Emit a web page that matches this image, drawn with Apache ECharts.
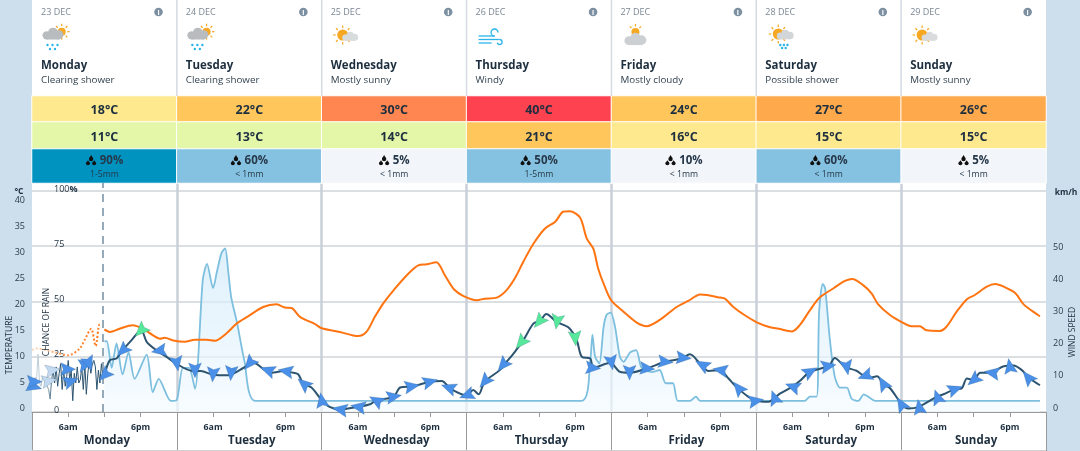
<!DOCTYPE html>
<html><head><meta charset="utf-8">
<style>html,body{margin:0;padding:0;width:1080px;height:451px;overflow:hidden;background:#cddfec}
#bg{position:absolute;left:32px;top:0;width:1014px;height:451px;background:#fff}
#c{position:absolute;left:0;top:0;width:1080px;height:451px}</style>
<script src="https://cdn.jsdelivr.net/npm/echarts@6/dist/echarts.min.js"></script>
</head><body><div id="bg"></div><div id="c"></div>
<script>
const days=['Monday','Tuesday','Wednesday','Thursday','Friday','Saturday','Sunday'];
const dates=['23 DEC','24 DEC','25 DEC','26 DEC','27 DEC','28 DEC','29 DEC'];
const descs=['Clearing shower','Clearing shower','Mostly sunny','Windy','Mostly cloudy','Possible shower','Mostly sunny'];
const icons=['shower','shower','sunny','wind','cloudy','possible','sunny'];
const maxT=[18,22,30,40,24,27,26];
const minT=[11,13,14,21,16,15,15];
const rainPct=[90,60,5,50,10,60,5];
const rainAmt=['1-5mm','< 1mm','< 1mm','1-5mm','< 1mm','< 1mm','< 1mm'];
const maxColors=['#ffe98f','#ffc65c','#ff8650','#ff4250','#ffc65c','#ffa94d','#ffa94d'];
const minColors=['#e4f7a8','#e4f7a8','#e4f7a8','#ffc65c','#ffe98f','#ffe98f','#ffe98f'];
const rainColors=['#0093c0','#85c1e0','#f2f5f9','#85c1e0','#f2f5f9','#85c1e0','#f2f5f9'];

const rainSeries=[[12,32],[12.4,32],[13.2,20],[14,31],[15,17],[16,27],[17,15],[19,26],[20,9],[21,15],[23,5],[24,5.5],[25,20],[26,20],[27,10.5],[28.3,60],[29,67],[30,56],[30.6,63],[31.4,72],[32,74],[32.5,64],[33,52],[34,40],[35.2,23],[37,5],[60,5],[91,5],[92.5,23.5],[92.85,35],[93.3,25],[94,22],[94.7,38.5],[95.2,44],[95.9,45],[96.6,38.5],[97.4,25],[98,22.7],[99.1,27],[100.1,28],[101,20],[102.7,18],[104,19],[105,13],[106.2,13],[107,5],[109,5],[110,7],[110.7,5],[128,5],[128.9,7],[130,7],[130.4,45],[131,58],[131.4,56],[132.2,32.5],[133,16],[133.9,11],[135,11],[135.8,6],[136.9,5],[137.8,8],[138.5,7],[139.7,5],[167,5]];
const tempObserved=[[0,11.9],[0.7,12.2],[2.4,11.9],[4,11.4],[6,10.9],[7.9,12.2],[8.7,13.8],[9.8,16],[10.55,12.7],[11.2,16.9],[11.5,16.8]];
const tempForecast=[[12,15.9],[12.9,15.4],[14.5,16],[16.7,16.7],[18.4,16],[20,14.8],[21.2,14.1],[22,14.3],[23.4,13.75],[25.3,13.5],[27,13.9],[28.9,13.9],[30.3,13.7],[32.2,15.1],[33.9,17],[35.8,18.4],[38.3,20.2],[40.5,20.7],[41.9,20.1],[43,20],[44.4,18.3],[46.9,16.9],[48,16.1],[51,15.4],[54,14.6],[55.4,15.4],[56.8,18.3],[58.2,20.9],[59.9,23.4],[62.1,26.3],[64,28.2],[65.4,28.4],[67,28.8],[68.4,26.3],[69.9,23.6],[71.5,22.3],[73.7,21.5],[75,21.8],[77,22],[78.6,23.4],[80,25.7],[81.4,28.9],[83.1,32.4],[85,35.3],[86.7,36.6],[88,38.5],[89.1,38.6],[90.8,37.4],[91.9,33.4],[93,31.4],[93.8,27.6],[94.9,24.1],[96,21.4],[98,19.3],[100.2,17.2],[101.85,16.5],[104,17.7],[106.8,20.2],[108.8,21.4],[110.7,22.6],[111.8,22.5],[114,22],[114.8,21.8],[116.2,20.2],[118.1,18.6],[120,17.3],[122,16.4],[123.7,16],[125.9,15.5],[127.2,16.7],[128.9,19.6],[130.5,22],[132.8,23.8],[134.7,25.2],[135.9,25.6],[137.7,24.4],[139.1,22.8],[140.2,20.7],[142.2,18.6],[144.1,17.3],[145.75,16.5],[147.1,16.5],[148.2,15.7],[150.4,15.6],[151.5,16.4],[153.2,19.3],[154.9,21.7],[156.2,22.5],[158.2,24.1],[159.6,24.6],[161,24.1],[162.9,22.9],[164.3,20.7],[167,18.4]];
const windObserved=[[0,8],[0.25,9],[0.5,7],[0.75,10],[1,18],[1.25,9],[1.5,8],[1.75,11],[2,10],[2.25,9],[2.5,9],[2.75,7],[3,4],[3.25,10],[3.5,13],[3.75,9],[4,14],[4.25,8],[4.5,12],[4.75,15],[5,7],[5.25,13],[5.5,8],[5.75,11],[6,16],[6.25,10],[6.5,13],[6.75,3.5],[7,12],[7.25,9],[7.5,14],[7.75,9],[8,10],[8.25,14],[8.5,7],[8.75,15],[9,5.5],[9.25,12],[9.5,16],[9.75,12],[10,15],[10.25,16],[10.5,14],[10.75,7],[11,13],[11.25,9],[11.5,15],[11.75,11]];
const windForecast=[[12,11.4],[12.9,16.1],[14,16.6],[14.8,18.7],[16.5,22.3],[18.1,25.4],[19,21.8],[20.6,19.2],[22.3,17.1],[23.9,15],[26.4,12.8],[28,12.7],[30,11.6],[32.5,11.4],[34.4,13],[35.8,14.5],[36.7,15.3],[38.6,13],[39.7,12.2],[41.6,12.7],[43,12.3],[44.1,11.75],[44.9,8.9],[46.3,7.6],[48,3.7],[49.3,1.6],[51,0.8],[54,1.6],[56,2.4],[57.1,3.7],[59.9,4.7],[61,7.6],[63.2,8],[65.9,9.4],[67.9,9.6],[69.3,7.3],[72,5.2],[73.1,6.8],[74,5.5],[75,9.4],[77.5,13],[78.65,15.6],[80,18.7],[81.4,22.3],[83.1,27.5],[84.2,28.3],[85.2,30.4],[86.9,28],[88.9,26.2],[90.25,22.3],[91.1,17.1],[92.5,16.6],[93,13.7],[95.8,15.3],[97.4,12.5],[99.1,12.2],[101.85,13.5],[104.9,15.6],[107.65,16.6],[109,17.9],[110.7,15],[112.1,12.7],[114,13],[115.4,10.4],[116.7,7.8],[118.7,4.7],[120,3.5],[122,3.2],[123.9,5.7],[125.9,7.8],[127.2,9.6],[128.9,12.5],[132,14.3],[133,16.8],[134.7,14],[136.6,12.8],[137.7,11.4],[138.8,10.6],[140,11.1],[141,8.9],[142.2,7.3],[144.1,2.4],[145.2,1.1],[146.9,1.6],[149.9,4.7],[151,5.5],[152.9,7.1],[154,7.3],[154.9,10.4],[156,9.9],[157.1,12.2],[158.7,12.2],[161,14.2],[162.6,14.4],[164,13],[165.1,10.7],[167,8.3]];
const arrowHours=[0,0.45,2.9,3.5,6,6.5,9,9.45,12,15,18,21,24,27,30,33,36,39,42,45,48,51,54,57,60,63,66,69,72,75,78,81,84,87,90,93,96,99,102,105,108,111,114,117,120,123,126,129,132,135,138,141,144,147,150,153,156,159,162,165];
const arrowSpeed=[7.8,9.4,9.7,13,13.3,9.6,14.7,15,11.4,19,25.2,19,15,12.9,11.6,12,15,13,12.7,8.8,3.7,0.8,1.6,3.6,4.8,8,9.4,7.6,5.2,9.4,14.5,21.5,28,28,22.8,13.7,15.3,12.2,13.5,15.6,16.8,14.7,13,7.5,3.5,4.5,7.9,12.6,14.3,13.8,11.2,8.9,2.5,1.6,4.7,7.1,9.9,12.2,14.3,10.8];
const arrowDir=[120,270,280,280,270,290,280,200,135,135,135,100,190,180,175,175,140,70,80,50,10,80,80,60,280,280,285,70,110,140,140,140,140,170,185,265,190,180,265,265,265,60,80,40,280,20,70,300,280,190,110,30,30,10,20,290,130,80,10,40];
const arrowFaded=[2,3];

const FONT='"Open Sans"';
const INK='#1d2f3f';
const L=32,W=1014,DW=W/7;
const ARROW='path://M0,-10 L8,8 L0,5 L-8,8 Z';

function rainIcon(fill){
  const svg='<svg xmlns="http://www.w3.org/2000/svg" width="12" height="12" viewBox="0 0 12 12"><g fill="'+fill+'"><path d="M6,0 C7,2 8.4,3 8.4,4.3 A2.4,2.4 0 0 1 3.6,4.3 C3.6,3 5,2 6,0Z"/><path d="M2.6,5.6 C3.4,7 4.9,8 4.9,9.4 A2.4,2.4 0 0 1 0.2,9.4 C0.2,8 1.8,7 2.6,5.6Z"/><path d="M9.4,5.6 C10.2,7 11.7,8 11.7,9.4 A2.4,2.4 0 0 1 7,9.4 C7,8 8.6,7 9.4,5.6Z"/></g></svg>';
  return 'data:image/svg+xml;charset=utf-8,'+encodeURIComponent(svg);
}
function circle(cx,cy,r,fill,z){return {type:'circle',shape:{cx,cy,r},style:{fill},z:z||10,silent:true};}
function sun(cx,cy,r,skip){
  const out=[];
  for(let a=0;a<8;a++){
    if(skip&&skip.includes(a))continue;
    const t=a*Math.PI/4;
    out.push({type:'line',shape:{x1:cx+Math.cos(t)*(r+1.6),y1:cy+Math.sin(t)*(r+1.6),x2:cx+Math.cos(t)*(r+4),y2:cy+Math.sin(t)*(r+4)},style:{stroke:'#f7a823',lineWidth:1.2},z:10,silent:true});
  }
  out.push(circle(cx,cy,r,'#f7a823',10));
  return out;
}
function cloud(x,y,w,fill){
  const s=w/20;
  return [
    circle(x+4*s,y+7*s,4*s,fill,11),circle(x+10*s,y+4.5*s,4.8*s,fill,11),circle(x+15.5*s,y+6.5*s,4.4*s,fill,11),
    {type:'rect',shape:{x:x+4*s,y:y+6*s,width:12*s,height:5*s},style:{fill},z:11,silent:true}
  ];
}
function drops(x,y,n){
  const out=[];
  const pts=n===5?[[0,0],[5,0],[10,0],[2.5,4],[7.5,4]]:[[0,0],[3.6,0],[7.2,0],[1.8,3],[5.4,3]];
  pts.forEach(p=>out.push(circle(x+p[0],y+p[1],1.2,'#2ab4ea',12)));
  return out;
}
function windGlyph(x,y){
  const st={fill:'none',stroke:'#2cb3ea',lineWidth:1.3};
  const ln=(x1,y1,x2,y2)=>({type:'line',shape:{x1:x+x1,y1:y+y1,x2:x+x2,y2:y+y2},style:st,z:10,silent:true});
  const arc=(cx,cy,r,a,b)=>({type:'arc',shape:{cx:x+cx,cy:y+cy,r,startAngle:a,endAngle:b,clockwise:true},style:st,z:10,silent:true});
  return [ln(0,6,16,6),arc(16,2.5,3.5,Math.PI*0.5,Math.PI*2),
          ln(0,9.5,21,9.5),arc(21,12,2.5,-Math.PI*0.5,Math.PI*0.9),ln(0,13,13,13)];
}
function iconFor(kind,x){
  if(kind==='shower') return [...sun(x+29.7,31.7,4),...cloud(x+10.5,28,21,'#b9bcbf'),...drops(x+15.5,45,5)];
  if(kind==='sunny') return [...sun(x+21,35,5.5),...cloud(x+20.5,32,16,'#d9dcdd')];
  if(kind==='wind') return windGlyph(x+12,30);
  if(kind==='cloudy') return [...sun(x+24,32,4,[0,1,2,3,4]),...cloud(x+13,33,22,'#cdd0d2')];
  return [...sun(x+22,34,5.5),...cloud(x+20.5,30,17,'#d3d6d8'),...drops(x+24,45,3)];
}
const graphics=[];
days.forEach((d,i)=>{
  const x=L+DW*i;
  if(i>0) graphics.push({type:'rect',shape:{x:x-0.75,y:0,width:1.5,height:96},style:{fill:'#d5dbe3'},z:5,silent:true});
  graphics.push({type:'text',style:{text:dates[i],x:x+9,y:12.5,fill:'#7b8794',font:'9px '+FONT,verticalAlign:'middle'},z:10,silent:true});
  graphics.push({type:'text',style:{text:d,x:x+9,y:65.5,fill:INK,font:'bold 11.5px '+FONT,verticalAlign:'middle'},z:10,silent:true});
  graphics.push({type:'text',style:{text:descs[i],x:x+9,y:80,fill:'#33424f',font:'9.8px '+FONT,verticalAlign:'middle'},z:10,silent:true});
  graphics.push(circle(x+126.5,12,4.3,'#7d90a2',10));
  graphics.push({type:'text',style:{text:'i',x:x+126.5,y:12.5,fill:'#fff',font:'bold 7px '+FONT,align:'center',verticalAlign:'middle'},z:11,silent:true});
  graphics.push(...iconFor(icons[i],x));
});
const axisText=(t,x,y,r,ex)=>({type:'text',x,y,rotation:r,style:Object.assign({text:t,fill:INK,font:'8.5px '+FONT,align:'center',verticalAlign:'middle'},ex||{}),z:20,silent:true});
graphics.push(axisText('TEMPERATURE',10,345,Math.PI/2));
graphics.push(axisText('CHANCE OF RAIN',47,322,Math.PI/2));
graphics.push(axisText('WIND SPEED',1073,332,Math.PI/2));
graphics.push(axisText('°C',19,192,0,{font:'bold 8.5px '+FONT}));
graphics.push(axisText('km/h',1066,193,0,{font:'bold 8.5px '+FONT}));
graphics.push({type:'rect',shape:{x:32,y:450,width:1014,height:1},style:{fill:'#d0d0d0'},z:5,silent:true});

const hiddenX=g=>({type:'category',gridIndex:g,data:days,show:false});
const hiddenY=g=>({type:'category',gridIndex:g,data:[''],show:false});
const cellBase={type:'heatmap',itemStyle:{borderColor:'#fff',borderWidth:1},emphasis:{disabled:true}};
const raisedRich={v:{color:'#2b3b49',fontSize:9,fontFamily:FONT,lineHeight:11},s:{fontSize:6,lineHeight:8}};
const option={
  animation:false,
  backgroundColor:'transparent',
  textStyle:{fontFamily:FONT},
  grid:[
    {left:L,right:34,top:183,bottom:39,containLabel:false},
    {left:L,right:34,top:96,height:26},
    {left:L,right:34,top:122,height:27},
    {left:L,right:34,top:149,height:34}
  ],
  xAxis:[
    {type:'value',gridIndex:0,min:0,max:168,interval:6,position:'bottom',
     axisLine:{show:true,lineStyle:{color:'#9a9a9a',width:1}},
     axisTick:{show:true,length:5,lineStyle:{color:'#9a9a9a'}},
     splitLine:{show:false},
     axisLabel:{margin:11,color:INK,fontSize:8.8,fontWeight:'bold',fontFamily:FONT,
       formatter:v=>v%24===6?'6am':(v%24===18?'6pm':'')}},
    {type:'category',gridIndex:0,data:days,position:'bottom',boundaryGap:true,
     axisLine:{show:false},
     axisTick:{show:true,length:39,lineStyle:{color:'#9a9a9a'}},
     splitLine:{show:true,showMinLine:false,showMaxLine:false,lineStyle:{color:'#c9d0d8',width:2.5}},
     axisLabel:{margin:23,color:INK,fontSize:11.5,fontWeight:'bold',fontFamily:FONT,padding:[0,0,0,5],interval:0}},
    hiddenX(1),hiddenX(2),hiddenX(3)
  ],
  yAxis:[
    {type:'value',gridIndex:0,min:0,max:103.6,interval:25,position:'left',
     axisLine:{show:false},axisTick:{show:false},
     splitLine:{show:true,showMaxLine:false,lineStyle:{color:'#d0d4d8',width:1.5}},
     axisLabel:{inside:true,margin:22,color:INK,fontSize:9,fontFamily:FONT,padding:[0,0,4,0],showMaxLabel:false,
       formatter:v=>v===100?'100{p|%}':String(v),rich:{p:{fontWeight:'bold',fontSize:9,color:INK}}}},
    {type:'value',gridIndex:0,min:0,max:44.04,interval:5,position:'left',
     axisLine:{show:false},axisTick:{show:false},splitLine:{show:false},
     axisLabel:{margin:7,showMaxLabel:false,formatter:v=>'{v|'+v+'}\n{s| }',rich:raisedRich}},
    {type:'value',gridIndex:0,min:0,max:71.1,interval:10,position:'right',
     axisLine:{show:false},axisTick:{show:false},splitLine:{show:false},
     axisLabel:{margin:7,showMaxLabel:false,formatter:v=>v<=50?'{v|'+v+'}\n{s| }':'',rich:raisedRich}},
    hiddenY(1),hiddenY(2),hiddenY(3)
  ],
  series:[
    {name:'Chance of rain',type:'line',xAxisIndex:0,yAxisIndex:0,data:rainSeries,smooth:0.25,symbol:'none',z:2,
     lineStyle:{color:'#7dbfdf',width:1.8},
     areaStyle:{color:{type:'linear',x:0,y:0,x2:0,y2:1,colorStops:[{offset:0,color:'#cfe9f9'},{offset:1,color:'#f3faff'}]}}},
    {name:'Temperature observed',type:'line',xAxisIndex:0,yAxisIndex:1,data:tempObserved,smooth:0.3,symbol:'none',z:3,
     lineStyle:{type:'dotted',width:2,color:{type:'linear',x:0,y:0,x2:1,y2:0,colorStops:[{offset:0,color:'#ffdcc2'},{offset:0.6,color:'#ff8a3a'},{offset:1,color:'#ff7410'}]}}},
    {name:'Temperature',type:'line',xAxisIndex:0,yAxisIndex:1,data:tempForecast,smooth:0.3,symbol:'none',z:3,
     lineStyle:{color:'#ff7410',width:2}},
    {name:'Wind observed',type:'line',xAxisIndex:0,yAxisIndex:2,data:windObserved,symbol:'none',z:4,
     lineStyle:{width:1,color:{type:'linear',x:0,y:0,x2:1,y2:0,colorStops:[{offset:0,color:'#dbe4ea'},{offset:0.2,color:'#a9bdca'},{offset:0.33,color:'#2c5470'},{offset:1,color:'#2c5470'}]}},
     markLine:{silent:true,symbol:'none',label:{show:false},animation:false,
       lineStyle:{color:'#7d95a8',type:[8,6],width:1.6},data:[{xAxis:11.8}]}},
    {name:'Wind',type:'line',xAxisIndex:0,yAxisIndex:2,data:windForecast,smooth:0.3,symbol:'none',z:4,
     lineStyle:{color:'#2c5470',width:2}},
    {name:'Wind direction',type:'scatter',xAxisIndex:0,yAxisIndex:2,z:5,
     data:arrowHours.map((h,i)=>[h,arrowSpeed[i]]),
     symbol:ARROW,symbolSize:[13,15],
     symbolRotate:(v,p)=>arrowDir[p.dataIndex],
     itemStyle:{borderColor:'rgba(44,84,112,.4)',borderWidth:0.5,opacity:1,
       color:p=>arrowFaded.includes(p.dataIndex)?'#c3d9f0':(p.data[1]>=21?'#57e89b':'#4a90e8')}},
    Object.assign({},cellBase,{name:'Max',xAxisIndex:2,yAxisIndex:3,
      data:maxT.map((v,i)=>({value:[i,0,v],itemStyle:{color:maxColors[i]}})),
      label:{show:true,offset:[0,1],color:INK,fontSize:12.5,fontWeight:'bold',fontFamily:FONT,formatter:p=>p.value[2]+'°C'}}),
    Object.assign({},cellBase,{name:'Min',xAxisIndex:3,yAxisIndex:4,
      data:minT.map((v,i)=>({value:[i,0,v],itemStyle:{color:minColors[i]}})),
      label:{show:true,offset:[0,1.5],color:INK,fontSize:12.5,fontWeight:'bold',fontFamily:FONT,formatter:p=>p.value[2]+'°C'}}),
    Object.assign({},cellBase,{name:'Rain',xAxisIndex:4,yAxisIndex:5,
      data:rainPct.map((v,i)=>({value:[i,0,v],itemStyle:{color:rainColors[i]}})),
      label:{show:true,offset:[0,1],lineHeight:14,
        formatter:p=>'{ic|} {pct|'+p.value[2]+'%}\n{amt|'+rainAmt[p.value[0]]+'}',
        rich:{ic:{width:11,height:11,backgroundColor:{image:rainIcon('#111')}},
              pct:{color:'#26384a',fontSize:11.5,fontWeight:'bold',fontFamily:FONT,lineHeight:15},
              amt:{color:'#26384a',fontSize:8.7,fontFamily:FONT,lineHeight:13}}}})
  ],
  graphic:{elements:graphics}
};
const chart=echarts.init(document.getElementById('c'),null,{renderer:'canvas'});
chart.setOption(option);
</script></body></html>
